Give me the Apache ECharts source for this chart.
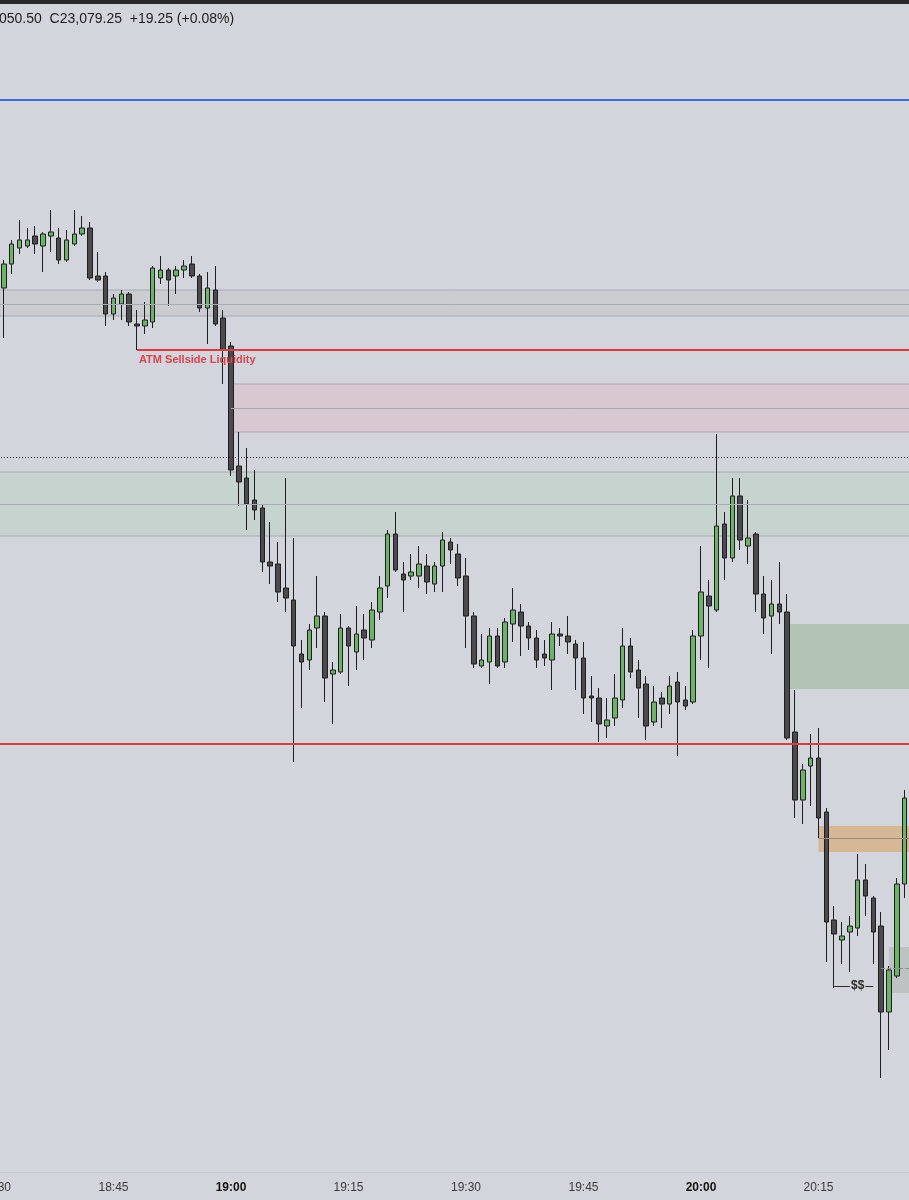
<!DOCTYPE html>
<html>
<head>
<meta charset="utf-8">
<script src="https://cdn.jsdelivr.net/npm/echarts@6/dist/echarts.min.js"></script>
<style>
html,body{margin:0;padding:0;background:#d2d5dc;}
#chart{width:909px;height:1200px;}
</style>
</head>
<body>
<div id="chart"></div>
<script>
// 1-minute categories (18:30 and 20:27 are empty padding slots)
const times = [
'18:30','18:31','18:32','18:33','18:34','18:35','18:36','18:37','18:38','18:39',
'18:40','18:41','18:42','18:43','18:44','18:45','18:46','18:47','18:48','18:49',
'18:50','18:51','18:52','18:53','18:54','18:55','18:56','18:57','18:58','18:59',
'19:00','19:01','19:02','19:03','19:04','19:05','19:06','19:07','19:08','19:09',
'19:10','19:11','19:12','19:13','19:14','19:15','19:16','19:17','19:18','19:19',
'19:20','19:21','19:22','19:23','19:24','19:25','19:26','19:27','19:28','19:29',
'19:30','19:31','19:32','19:33','19:34','19:35','19:36','19:37','19:38','19:39',
'19:40','19:41','19:42','19:43','19:44','19:45','19:46','19:47','19:48','19:49',
'19:50','19:51','19:52','19:53','19:54','19:55','19:56','19:57','19:58','19:59',
'20:00','20:01','20:02','20:03','20:04','20:05','20:06','20:07','20:08','20:09',
'20:10','20:11','20:12','20:13','20:14','20:15','20:16','20:17','20:18','20:19',
'20:20','20:21','20:22','20:23','20:24','20:25','20:26','20:27'
];

// candles 18:31 .. 20:26
const opens = [
23144,23147,23149,23149.25,23150.5,23149.25,23150.5,23150.25,23147.5,23149.5,
23150.75,23151.5,23145.5,23145.5,23140.75,23142,23143.25,23139.5,23139.25,23139.75,
23145.25,23146.25,23145.5,23146.25,23147,23145.5,23141.5,23143.75,23140.25,23136.75,
23121.75,23120.25,23117.5,23116.5,23109.75,23109.5,23106.5,23105,23098.25,23097.5,
23101.5,23103,23095.75,23096,23101.5,23098.5,23101.25,23100,23103.5,23106.75,
23113.25,23108.25,23108,23108,23109.25,23107,23109.25,23112.25,23110.75,23108,
23103,23096.75,23097.25,23100.5,23097.25,23102,23103.5,23101.75,23100.25,23098.25,
23097.5,23100.75,23100.5,23099.5,23097.75,23093,23092.75,23089.25,23090.25,23092.5,
23099.25,23096.25,23094.5,23089.75,23092.75,23092,23094.75,23092.5,23092.25,23100.5,
23105.5,23103.75,23114.5,23110.25,23118,23111.75,23113.25,23105.75,23103,23104.5,
23103.5,23088.5,23080,23084.25,23085.25,23078.5,23065,23062.5,23063.5,23064,
23070,23067.75,23064.25,23053.5,23058,23069.5
];
const closes = [
23147,23149.5,23150,23150,23149.5,23150.75,23151,23147.5,23150,23150.75,
23151.5,23145.25,23145,23140.75,23142.75,23143.25,23139.75,23139.25,23140,23146.5,
23146.25,23145,23146.25,23146.75,23145.5,23141.5,23144,23139.5,23136.25,23121.25,
23119.75,23117,23116.25,23109.75,23109.25,23106,23105.25,23099.25,23097.25,23101.25,
23103,23095.25,23096.25,23101.5,23099.25,23100.75,23100.25,23103.75,23106.5,23113.25,
23108.75,23107.5,23108.5,23109.5,23107.25,23109.25,23112.5,23111.25,23107.75,23103,
23097,23097.5,23100.5,23096.75,23102.25,23103.75,23101.75,23100.25,23097.5,23097.75,
23100.75,23100.5,23099.75,23097.75,23092.75,23092.75,23089.5,23090,23092.75,23099.25,
23096,23094,23089.25,23092.25,23092,23094.25,23092.25,23091.75,23100.5,23106,
23104.25,23114.25,23110.25,23118,23112.5,23112.75,23105.75,23102.75,23104.5,23103.5,
23087.75,23080,23083.75,23085.25,23077.75,23064.75,23063.25,23063,23064.25,23070,
23068,23063.5,23053.5,23058.75,23069.5,23080.25
];
const lows = [
23137.75,23145.75,23148.25,23149,23148.25,23146,23148.5,23147,23147.25,23149.25,
23150.5,23145,23144.75,23139.25,23140,23140,23139.25,23136.25,23138.25,23139,
23144.5,23141.75,23143.25,23145.25,23145.25,23141,23137,23139.25,23132,23120.5,
23116.75,23113.75,23115,23108.5,23107,23104.75,23103.5,23084.75,23091.5,23096.25,
23099,23092.25,23089.5,23095.75,23094.25,23096.25,23097.5,23099,23102.5,23105.25,
23108.5,23103.5,23107.5,23106.5,23105.75,23106,23106,23109.5,23106.75,23099,
23096.5,23096.5,23094.5,23096.5,23096.5,23099.75,23098,23098.75,23096.5,23096.75,
23093.75,23099.25,23098.25,23093.75,23090.75,23089.75,23087.25,23087.75,23089.25,23091.5,
23095.25,23090.25,23087.5,23089.25,23089,23090.75,23085.5,23091.25,23092,23097.5,
23096.5,23103.5,23107.5,23109.75,23111.25,23109.5,23103.5,23100.75,23098.25,23102,
23087.5,23077.75,23077,23079.25,23075.25,23059.75,23056.5,23059.5,23058.5,23063,
23065.5,23059.5,23045.25,23048.75,23057.75,23067.75
];
const highs = [
23147.5,23150,23152.5,23151.5,23151.75,23151,23153.75,23151.5,23151.25,23153.75,
23153,23152.25,23148.5,23146,23143.25,23143.75,23143.5,23141.25,23142.25,23146.75,
23148,23146.5,23146.75,23147.5,23148,23145.75,23146,23146.75,23141.25,23137.25,
23126,23124,23121.25,23117,23114.75,23112.25,23120.25,23112.75,23100,23102,
23108,23103.5,23097.25,23103.25,23101.75,23104.25,23103.25,23104.75,23108,23113.75,
23116,23109.75,23110.75,23111.75,23110.75,23109.75,23113.5,23112.75,23112,23110.25,
23103.5,23100.75,23101.5,23101.5,23102.75,23106.5,23104.5,23102.25,23101.25,23100,
23102.25,23101.5,23103,23100,23099.75,23095.5,23094,23092.75,23095.75,23101.5,
23100.25,23097.5,23095.5,23094.25,23093.5,23095.5,23096,23094.25,23101.25,23111.75,
23107.5,23125.75,23116,23120.25,23120.25,23117.5,23113.5,23108,23107.5,23109.75,
23105.75,23093.75,23084.5,23088.25,23089,23079,23066.75,23064.75,23065.5,23073.25,
23072,23068,23066,23059.25,23070.25,23081.25
];

// price levels / zones drawn on the chart
const blueLevel = 23167.5;
const grayZone = [23143.75, 23142, 23140.5];
const sellsideLevel = 23136.25;
const pinkZone = [23132, 23129, 23126];
const dottedLevel = 23122.875;
const greenZone = [23121, 23117, 23113];
const greenBox = [23102, 23093.875];
const lowRedLevel = 23087;
const orangeBox = [23076.75, 23075.25, 23073.5];
const grayBox = [23061.625, 23059, 23055.875];
const ssLevel = 23056.75;

const headerText = '050.50  C23,079.25  +19.25 (+0.08%)';

const candleData = [['-','-','-','-']].concat(
  opens.map((o, i) => [o, closes[i], lows[i], highs[i]])
);
const last = times.length - 1;

const FONT = "'Liberation Sans',Arial,sans-serif";
const chart = echarts.init(document.getElementById('chart'), null, {renderer: 'canvas'});

const zoneBorder = {color: '#a9aab2', width: 1, type: 'solid'};

chart.setOption({
  backgroundColor: '#d2d5dc',
  animation: false,
  title: {
    text: headerText, left: -1, top: 12, padding: 0,
    textStyle: {fontFamily: FONT, fontSize: 14, fontWeight: 'normal', color: '#1d1d1f'}
  },
  graphic: [
    {type: 'rect', left: 0, top: 0, shape: {width: 909, height: 4}, style: {fill: '#2a2a2c'}, z: 100}
  ],
  grid: {left: -7.92, right: -7.4, top: 0, bottom: 28, containLabel: false, outerBoundsMode: 'none'},
  xAxis: {
    type: 'category',
    data: times,
    boundaryGap: true,
    axisLine: {show: true, lineStyle: {color: '#c6c9d0', width: 1}},
    axisTick: {show: false},
    splitLine: {show: false},
    axisLabel: {
      margin: 10,
      interval: (i, v) => ['00', '15', '30', '45'].indexOf(v.slice(3)) >= 0,
      formatter: v => v.slice(3) === '00' ? '{b|' + v + '}' : '{n|' + v + '}',
      rich: {
        b: {fontFamily: FONT, fontSize: 12, fontWeight: 'bold', color: '#111'},
        n: {fontFamily: FONT, fontSize: 12, color: '#3a3a3c'}
      }
    }
  },
  yAxis: {
    type: 'value', min: 23033.5, max: 23180, scale: true,
    show: false, splitLine: {show: false}
  },
  series: [{
    type: 'candlestick',
    data: candleData,
    barWidth: 5,
    itemStyle: {
      color: '#6cb465', color0: '#4b4b4f',
      borderColor: '#1e1e1e', borderColor0: '#1e1e1e', borderWidth: 1
    },
    markArea: {
      silent: true,
      data: [
        [{yAxis: grayZone[0], itemStyle: {color: '#cbcbd2', borderColor: '#a9aab2', borderWidth: 1}}, {yAxis: grayZone[2]}],
        [{coord: [30, pinkZone[0]], itemStyle: {color: '#d8c9d1', borderColor: '#b0a9b0', borderWidth: 1}}, {coord: [last, pinkZone[2]]}],
        [{yAxis: greenZone[0], itemStyle: {color: '#c7d3ce', borderColor: '#a9aeb0', borderWidth: 1}}, {yAxis: greenZone[2]}],
        [{coord: [101.3, greenBox[0]], itemStyle: {color: '#b1c4b6'}}, {coord: [last, greenBox[1]]}],
        [{coord: [105, orangeBox[0]], itemStyle: {color: '#d7b896'}}, {coord: [last, orangeBox[2]]}],
        [{coord: [113.5, grayBox[0]], itemStyle: {color: '#bdc3c2'}}, {coord: [last, grayBox[2]]}]
      ]
    },
    markLine: {
      silent: true,
      symbol: ['none', 'none'],
      label: {show: false},
      data: [
        {yAxis: blueLevel, lineStyle: {color: '#3d6ae2', width: 2, type: 'solid'}},
        {yAxis: grayZone[1], lineStyle: zoneBorder},
        [{coord: [18, sellsideLevel], lineStyle: {color: '#e2393f', width: 2, type: 'solid'},
          label: {show: true, position: 'insideStartBottom', formatter: 'ATM Sellside Liquidity',
                  fontFamily: FONT, fontSize: 11, fontWeight: 'bold', color: '#e0414c', distance: [2, 4]}},
         {coord: [last, sellsideLevel]}],
        [{coord: [30, pinkZone[1]], lineStyle: {color: '#a9a5ad', width: 1, type: 'solid'}}, {coord: [last, pinkZone[1]]}],
        {yAxis: dottedLevel, lineStyle: {color: '#2b2b2b', width: 1, type: [1, 2]}},
        {yAxis: greenZone[1], lineStyle: zoneBorder},
        {yAxis: lowRedLevel, lineStyle: {color: '#e2393f', width: 2, type: 'solid'}},
        [{coord: [105, orangeBox[1]], lineStyle: {color: '#9d8a7c', width: 1, type: 'solid'}}, {coord: [last, orangeBox[1]]}],
        [{coord: [113.3, grayBox[1]], lineStyle: {color: '#8a8f90', width: 1, type: 'dashed'}}, {coord: [last, grayBox[1]]}],
        [{coord: [107, ssLevel], lineStyle: {color: '#2b2b2b', width: 1, type: 'solid'}},
         {coord: [108.6, ssLevel]}],
        [{coord: [110.9, ssLevel], lineStyle: {color: '#2b2b2b', width: 1, type: 'solid'}},
         {coord: [111.8, ssLevel]}]
      ]
    },
    markPoint: {
      silent: true,
      symbol: 'rect', symbolSize: [1, 1],
      itemStyle: {color: 'rgba(0,0,0,0)'},
      data: [{
        coord: [109.75, ssLevel],
        label: {show: true, position: 'inside', formatter: '$$', fontFamily: FONT,
                fontSize: 12, fontWeight: 'bold', color: '#2b2b2b'}
      }]
    }
  }]
});
</script>
</body>
</html>
